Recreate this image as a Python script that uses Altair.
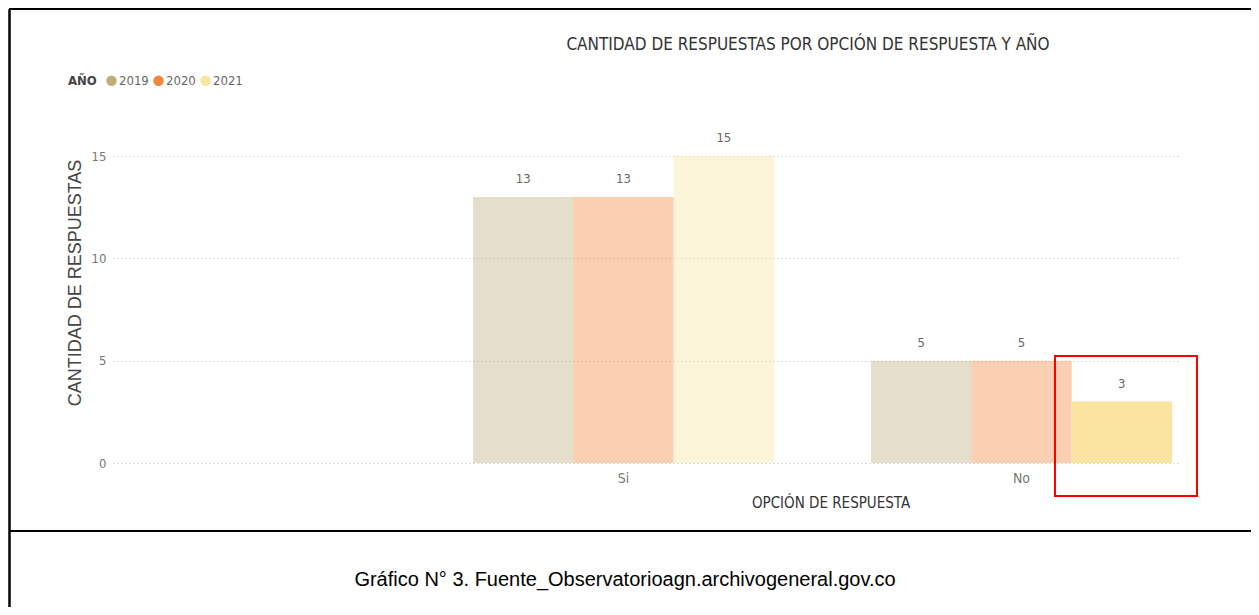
import altair as alt
import pandas as pd

categories = ["Si", "No"]
years = ["2019", "2020", "2021"]
si_values = [13, 13, 15]
no_values = [5, 5, 3]
year_colors = ["#BFAD7A", "#F2883E", "#F9E59F"]
selected = ("No", "2021")

rows = []
for cat, vals in zip(categories, [si_values, no_values]):
    for yr, v in zip(years, vals):
        rows.append({
            "cat": cat,
            "year": yr,
            "value": v,
            "op": 1.0 if (cat, yr) == selected else 0.4,
        })
df = pd.DataFrame(rows)

DIN = "Liberation Sans Narrow, DejaVu Sans Condensed, Roboto, sans-serif"
ARIAL = "Liberation Sans, Arial, sans-serif"

x_enc = alt.X(
    "cat:N",
    sort=categories,
    scale=alt.Scale(paddingInner=0.2437, paddingOuter=0.4598, align=0.9836),
    axis=alt.Axis(title=None, domain=False, ticks=False, labelAngle=0,
                  labelPadding=8, labelColor="#777777", labelFontSize=14,
                  labelFont=DIN),
)
y_enc = alt.Y(
    "value:Q",
    scale=alt.Scale(domain=[0, 15], nice=False),
    axis=alt.Axis(title=None, values=[0, 5, 10, 15], grid=True,
                  gridDash=[1, 3], gridColor="#BBBBBB", gridWidth=1,
                  domain=False, ticks=False, labelPadding=7,
                  labelColor="#777777", labelFontSize=13, labelFont=DIN),
)
xoff = alt.XOffset("year:N", sort=years, scale=alt.Scale(paddingInner=0, paddingOuter=0))

base = alt.Chart(df)

bars = base.mark_bar().encode(
    x=x_enc,
    y=y_enc,
    xOffset=xoff,
    color=alt.Color(
        "year:N",
        scale=alt.Scale(domain=years, range=year_colors),
        legend=alt.Legend(
            orient="none", legendX=-45, legendY=-82, direction="horizontal",
            titleOrient="left", title="AÑO", symbolType="circle",
            symbolSize=110, symbolOpacity=1, symbolStrokeWidth=0,
            labelFontSize=13, titleFontSize=13, labelFont=DIN, titleFont=DIN,
            labelColor="#666666", titleColor="#444444", titleFontWeight="bold",
            columnPadding=3, labelOffset=1, titlePadding=8,
        ),
    ),
    opacity=alt.Opacity("op:Q", scale=None, legend=None),
)

labels = base.mark_text(dy=-18, fontSize=13, font=DIN, color="#666666").encode(
    x=alt.X("cat:N", sort=categories),
    y="value:Q",
    xOffset=alt.XOffset("year:N", sort=years),
    text="value:Q",
)

deco = alt.Chart(alt.Data(values=[{"a": 1}]))

title = deco.mark_text(text="CANTIDAD DE RESPUESTAS POR OPCIÓN DE RESPUESTA Y AÑO",
                       fontSize=17, font=DIN, color="#333333").encode(
    x=alt.value(695), y=alt.value(-111))

ytitle = deco.mark_text(text="CANTIDAD DE RESPUESTAS", angle=270, fontSize=18,
                        font=ARIAL, color="#444444").encode(
    x=alt.value(-37), y=alt.value(127))

xtitle = deco.mark_text(text="OPCIÓN DE RESPUESTA", fontSize=15, font=DIN,
                        color="#333333").encode(
    x=alt.value(718), y=alt.value(347))

caption = deco.mark_text(text="Gráfico N° 3. Fuente_Observatorioagn.archivogeneral.gov.co",
                         fontSize=20, font=ARIAL, color="#000000").encode(
    x=alt.value(512), y=alt.value(424))

redbox = deco.mark_rect(fillOpacity=0, stroke="#FF0000", strokeWidth=2).encode(
    x=alt.value(942), x2=alt.value(1084), y=alt.value(200), y2=alt.value(340))

line_top = deco.mark_rule(color="#000000", strokeWidth=2).encode(
    x=alt.value(-104), x2=alt.value(1138), y=alt.value(-147))
line_left = deco.mark_rule(color="#000000", strokeWidth=2.5).encode(
    x=alt.value(-103.5), y=alt.value(-147), y2=alt.value(451))
line_mid = deco.mark_rule(color="#000000", strokeWidth=2).encode(
    x=alt.value(-104), x2=alt.value(1138), y=alt.value(375))

chart = alt.layer(
    bars, labels, title, ytitle, xtitle, caption, redbox, line_top, line_left, line_mid
).properties(
    width=1065,
    height=307,
    padding={"left": 105, "top": 148, "right": 73, "bottom": 144},
    autosize=alt.AutoSizeParams(type="none"),
).configure_view(stroke=None)

chart.save("out.html", embed_options={"renderer": "svg", "actions": False})
